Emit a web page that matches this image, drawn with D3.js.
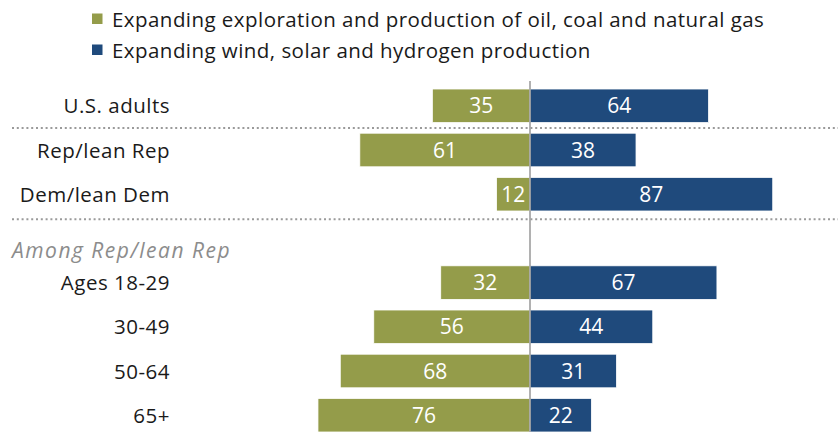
<!DOCTYPE html>
<html>
<head>
<meta charset="utf-8">
<script src="https://cdn.jsdelivr.net/npm/d3@7"></script>
<style>
  html, body { margin: 0; padding: 0; background: #fff; }
  svg { display: block; font-family: "Open Sans", "Liberation Sans", Arial, sans-serif; }
</style>
</head>
<body>
<svg id="chart" width="838" height="432"></svg>
<script>
// Share of each group that says which energy source should be the priority
const categories = ["U.S. adults", "Rep/lean Rep", "Dem/lean Dem", "Ages 18-29", "30-49", "50-64", "65+"];
const fossilValues = [35, 61, 12, 32, 56, 68, 76];
const renewableValues = [64, 38, 87, 67, 44, 31, 22];
const seriesNames = [
  "Expanding exploration and production of oil, coal and natural gas",
  "Expanding wind, solar and hydrogen production"
];
const subgroupHeading = "Among Rep/lean Rep";

const colors = { fossil: "#949c4a", renewable: "#1f4a7c" };

const svg = d3.select("#chart");
const W = 838, H = 432;

// Row layout: the subgroup heading takes a row of its own
const rows = categories.slice(0, 3).concat([subgroupHeading], categories.slice(3));

const y = d3.scaleBand()
  .domain(rows)
  .range([83.7, 437.3])
  .paddingInner(0.24)
  .paddingOuter(0.12);

// Diverging axis centred at 530, 100 points = 279px
const x = d3.scaleLinear().domain([-100, 100]).range([251, 809]);

const data = categories.map((c, i) => ({ cat: c, fossil: fossilValues[i], renewable: renewableValues[i] }));

// Legend
const legend = svg.append("g");
[["fossil", 0], ["renewable", 1]].forEach(([key, i]) => {
  const g = legend.append("g").attr("transform", `translate(0, ${i * 31})`);
  g.append("rect").attr("x", 92).attr("y", 13.5).attr("width", 10.5).attr("height", 10.5).attr("fill", colors[key]);
  g.append("text").attr("x", 112).attr("y", 26.7)
    .attr("font-size", 20.5).attr("letter-spacing", 0.45).attr("fill", "#1a1a1a")
    .text(seriesNames[i]);
});

// Dotted separators
const bw = y.bandwidth();
const sep1 = y(categories[0]) + bw + (y.step() - bw) / 2;
const sep2 = y(categories[2]) + bw + 8.3;
[sep1, sep2].forEach(yy => {
  svg.append("line")
    .attr("x1", 12).attr("x2", W)
    .attr("y1", yy).attr("y2", yy)
    .attr("stroke", "#9a9a9a").attr("stroke-width", 2)
    .attr("stroke-dasharray", "2 2.8");
});

// Bars
const bars = svg.append("g");
bars.selectAll("rect.fossil").data(data).join("rect")
  .attr("class", "fossil")
  .attr("x", d => x(-d.fossil)).attr("y", d => y(d.cat))
  .attr("width", d => x(0) - x(-d.fossil)).attr("height", bw)
  .attr("fill", colors.fossil)
  .attr("stroke", "#ffffff").attr("stroke-width", 0.8);

bars.selectAll("rect.renewable").data(data).join("rect")
  .attr("class", "renewable")
  .attr("x", x(0)).attr("y", d => y(d.cat))
  .attr("width", d => x(d.renewable) - x(0)).attr("height", bw)
  .attr("fill", colors.renewable)
  .attr("stroke", "#ffffff").attr("stroke-width", 0.8);

// Value labels
const labels = svg.append("g").attr("font-size", 21).attr("fill", "#fff").attr("text-anchor", "middle");
labels.selectAll("text.fv").data(data).join("text")
  .attr("class", "fv")
  .attr("x", d => (x(-d.fossil) + x(0)) / 2)
  .attr("y", d => y(d.cat) + bw / 2 + 7.6)
  .text(d => d.fossil);
labels.selectAll("text.rv").data(data).join("text")
  .attr("class", "rv")
  .attr("x", d => (x(d.renewable) + x(0)) / 2)
  .attr("y", d => y(d.cat) + bw / 2 + 7.6)
  .text(d => d.renewable);

// Centre line
svg.append("line")
  .attr("x1", x(0)).attr("x2", x(0))
  .attr("y1", 81).attr("y2", H)
  .attr("stroke", "#9e9e9e").attr("stroke-width", 1.6);

// Category labels
svg.append("g").selectAll("text").data(categories).join("text")
  .attr("x", 170).attr("y", d => y(d) + bw / 2 + 7.5)
  .attr("text-anchor", "end").attr("font-size", 20.5).attr("letter-spacing", 0.5).attr("fill", "#1a1a1a")
  .text(d => d);

// Subgroup heading
svg.append("text")
  .attr("x", 12).attr("y", y(subgroupHeading) + bw / 2 + 19.5)
  .attr("font-size", 21).attr("letter-spacing", 1.5).attr("font-style", "italic").attr("fill", "#8c8c8c")
  .text(subgroupHeading);
</script>
</body>
</html>
